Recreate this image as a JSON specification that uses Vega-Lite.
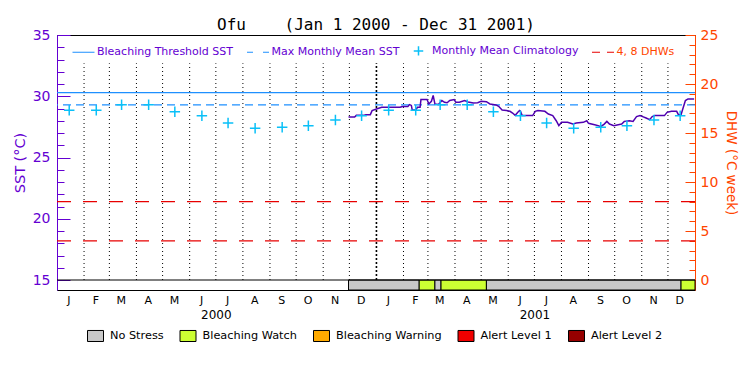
{
  "$schema": "https://vega.github.io/schema/vega-lite/v6.json",
  "width": 638,
  "height": 255,
  "autosize": {"type": "none"},
  "padding": {"left": 57, "top": 35, "right": 55, "bottom": 85},
  "background": "white",
  "title": {"text": "Ofu\u00a0\u00a0\u00a0\u00a0(Jan 1 2000 - Dec 31 2001)", "font": "DejaVu Sans Mono", "fontSize": 16, "fontWeight": "normal", "color": "black", "anchor": "middle", "frame": "group", "offset": -5},
  "config": {
    "view": {"stroke": "black", "strokeWidth": 1},
    "axis": {"grid": false, "labelFont": "DejaVu Sans", "titleFont": "DejaVu Sans", "titleFontWeight": "normal"},
    "legend": {"padding": 0, "labelFont": "DejaVu Sans"}
  },
  "resolve": {"scale": {"y": "independent"}, "axis": {"x": "independent"}},
  "layer": [
    {
      "data": {"values": [
        {"start": "2000-11-30", "end": "2001-02-19", "status": "No Stress"},
        {"start": "2001-02-19", "end": "2001-03-09", "status": "Bleaching Watch"},
        {"start": "2001-03-09", "end": "2001-03-16", "status": "No Stress"},
        {"start": "2001-03-16", "end": "2001-05-07", "status": "Bleaching Watch"},
        {"start": "2001-05-07", "end": "2001-12-16", "status": "No Stress"},
        {"start": "2001-12-16", "end": "2002-01-01", "status": "Bleaching Watch"}
      ]},
      "mark": {"type": "rect", "stroke": "black", "strokeWidth": 1},
      "encoding": {
        "x": {"field": "start", "type": "temporal",
          "scale": {"type": "utc", "domain": [{"year": 2000, "month": 1, "date": 1, "utc": true}, {"year": 2002, "month": 1, "date": 1, "utc": true}]},
          "axis": {"orient": "bottom", "values": [{"year": 2000, "month": 7, "date": 1, "utc": true}, {"year": 2001, "month": 7, "date": 1, "utc": true}], "format": "%Y", "ticks": false, "domain": false, "labelPadding": 19, "labelFontSize": 12, "labelColor": "black", "labelFlush": false, "labelOverlap": false, "title": null, "grid": false}},
        "x2": {"field": "end"},
        "y": {"datum": 15, "type": "quantitative", "scale": {"domain": [14.184, 35], "nice": false, "zero": false}, "axis": null},
        "y2": {"datum": 14.184},
        "fill": {"field": "status", "type": "nominal",
          "scale": {"domain": ["No Stress", "Bleaching Watch", "Bleaching Warning", "Alert Level 1", "Alert Level 2"], "range": ["#C8C8C8", "#CCFF33", "#FFAA00", "#F00000", "#960000"]},
          "legend": {"orient": "none", "legendX": 30, "legendY": 292, "direction": "horizontal", "title": null, "symbolType": "M-1,-0.69L1,-0.69L1,0.69L-1,0.69Z", "symbolSize": 256, "symbolStrokeColor": "black", "symbolStrokeWidth": 1, "labelFontSize": 11.3, "labelOffset": 6, "columnPadding": 13.5, "labelColor": "black"}}
      }
    },
    {
      "data": {"values": [{"sst": 15}]},
      "mark": {"type": "rule", "color": "black", "strokeWidth": 1},
      "encoding": {"y": {"field": "sst", "type": "quantitative", "scale": {"domain": [14.184, 35], "nice": false, "zero": false}, "axis": null}}
    },
    {
      "data": {"values": [
        {"date": "2000-02-01"}, {"date": "2000-03-01"}, {"date": "2000-04-01"}, {"date": "2000-05-01"}, {"date": "2000-06-01"}, {"date": "2000-07-01"},
        {"date": "2000-08-01"}, {"date": "2000-09-01"}, {"date": "2000-10-01"}, {"date": "2000-11-01"}, {"date": "2000-12-01"},
        {"date": "2001-02-01"}, {"date": "2001-03-01"}, {"date": "2001-04-01"}, {"date": "2001-05-01"}, {"date": "2001-06-01"}, {"date": "2001-07-01"},
        {"date": "2001-08-01"}, {"date": "2001-09-01"}, {"date": "2001-10-01"}, {"date": "2001-11-01"}, {"date": "2001-12-01"}
      ]},
      "mark": {"type": "rule", "color": "black", "strokeWidth": 1, "strokeDash": [1, 3]},
      "encoding": {
        "x": {"field": "date", "type": "temporal", "scale": {"type": "utc"}, "axis": null},
        "y": {"datum": 15, "type": "quantitative", "scale": {"domain": [14.184, 35], "nice": false, "zero": false}, "axis": null},
        "y2": {"datum": 32.69}
      }
    },
    {
      "data": {"values": [{"date": "2001-01-01"}]},
      "mark": {"type": "rule", "color": "black", "strokeWidth": 1.6, "strokeDash": [2, 2]},
      "encoding": {
        "x": {"field": "date", "type": "temporal", "scale": {"type": "utc"}, "axis": null},
        "y": {"datum": 15, "type": "quantitative", "scale": {"domain": [14.184, 35], "nice": false, "zero": false}, "axis": null},
        "y2": {"datum": 32.69}
      }
    },
    {
      "data": {"values": [{"series": "Bleaching Threshold SST", "sst": 30.3}]},
      "mark": {"type": "rule", "strokeWidth": 1.2},
      "encoding": {
        "y": {"field": "sst", "type": "quantitative", "scale": {"domain": [14.184, 35], "nice": false, "zero": false}, "axis": null},
        "color": {"field": "series", "type": "nominal",
          "scale": {"domain": ["Bleaching Threshold SST", "Max Monthly Mean SST", "Monthly Mean Climatology", "4, 8 DHWs"], "range": ["#1E90FF", "#1E90FF", "#0AC0F8", "#E80000"]},
          "legend": {"orient": "none", "legendX": 21, "legendY": 10, "direction": "horizontal", "title": null, "symbolType": "stroke", "symbolSize": 484, "symbolStrokeWidth": 1.2, "labelFontSize": 11, "labelOffset": 8, "columnPadding": 10.5, "labelColor": "#6400D2",
            "encode": {
              "symbols": {"update": {
                "shape": {"signal": "datum.value === 'Monthly Mean Climatology' ? 'M-1,0L1,0M0,-1L0,1' : 'stroke'"},
                "size": {"signal": "datum.value === 'Monthly Mean Climatology' ? 90 : 484"},
                "strokeDash": {"signal": "datum.value === 'Max Monthly Mean SST' ? [6, 10] : datum.value === '4, 8 DHWs' ? [8, 7] : [1, 0]"},
                "strokeWidth": {"signal": "datum.value === 'Monthly Mean Climatology' ? 1.5 : 1.2"},
                "fill": {"value": "transparent"}
              }},
              "labels": {"update": {"fill": {"signal": "datum.value === '4, 8 DHWs' ? '#FF4500' : '#6400D2'"}}}
            }}}
      }
    },
    {
      "data": {"values": [{"series": "Max Monthly Mean SST", "sst": 29.3}]},
      "mark": {"type": "rule", "strokeWidth": 1.2, "strokeDash": [8, 5]},
      "encoding": {
        "y": {"field": "sst", "type": "quantitative", "scale": {"domain": [14.184, 35], "nice": false, "zero": false}, "axis": null},
        "color": {"field": "series", "type": "nominal"}
      }
    },
    {
      "data": {"values": [{"series": "4, 8 DHWs", "dhw": 4}, {"series": "4, 8 DHWs", "dhw": 8}]},
      "mark": {"type": "rule", "strokeWidth": 1.2, "strokeDash": [14, 12]},
      "encoding": {
        "y": {"field": "dhw", "type": "quantitative", "scale": {"domain": [-1.0204, 25], "nice": false, "zero": false},
          "axis": {"orient": "right", "values": [0, 1, 2, 3, 4, 5, 6, 7, 8, 9, 10, 11, 12, 13, 14, 15, 16, 17, 18, 19, 20, 21, 22, 23, 24, 25], "format": "d", "title": "DHW (°C week)", "titleColor": "#FF4500", "titleFontSize": 13.5, "titlePadding": 6, "labelColor": "#FF4500", "labelFontSize": 14, "labelPadding": 15, "labelExpr": "datum.value % 5 === 0 ? datum.label : ''", "tickColor": "#FF4500", "tickSize": {"condition": {"test": "datum.value % 5 === 0", "value": -10}, "value": -6}, "tickWidth": 1, "domainColor": "#FF4500", "labelOverlap": false, "grid": false}},
        "color": {"field": "series", "type": "nominal"}
      }
    },
    {
      "data": {"values": [
        {"date": "2000-11-30", "sst": 28.30}, {"date": "2000-12-07", "sst": 28.30}, {"date": "2000-12-09", "sst": 28.44}, {"date": "2000-12-17", "sst": 28.44},
        {"date": "2000-12-20", "sst": 28.50}, {"date": "2000-12-25", "sst": 28.50}, {"date": "2000-12-27", "sst": 28.83}, {"date": "2001-01-01", "sst": 28.96},
        {"date": "2001-01-07", "sst": 29.10}, {"date": "2001-01-28", "sst": 29.10}, {"date": "2001-01-31", "sst": 29.16}, {"date": "2001-02-06", "sst": 29.16},
        {"date": "2001-02-08", "sst": 29.32}, {"date": "2001-02-10", "sst": 29.25}, {"date": "2001-02-11", "sst": 28.88}, {"date": "2001-02-15", "sst": 28.88},
        {"date": "2001-02-17", "sst": 29.10}, {"date": "2001-02-20", "sst": 29.10}, {"date": "2001-02-21", "sst": 29.73}, {"date": "2001-02-28", "sst": 29.73},
        {"date": "2001-03-02", "sst": 29.37}, {"date": "2001-03-05", "sst": 29.59}, {"date": "2001-03-07", "sst": 30.06}, {"date": "2001-03-09", "sst": 29.37},
        {"date": "2001-03-13", "sst": 29.32}, {"date": "2001-03-17", "sst": 29.65}, {"date": "2001-03-20", "sst": 29.51}, {"date": "2001-03-23", "sst": 29.47},
        {"date": "2001-03-26", "sst": 29.65}, {"date": "2001-03-31", "sst": 29.73}, {"date": "2001-04-02", "sst": 29.51}, {"date": "2001-04-06", "sst": 29.51},
        {"date": "2001-04-12", "sst": 29.65}, {"date": "2001-04-16", "sst": 29.53}, {"date": "2001-04-22", "sst": 29.45}, {"date": "2001-04-27", "sst": 29.47},
        {"date": "2001-05-01", "sst": 29.59}, {"date": "2001-05-07", "sst": 29.56}, {"date": "2001-05-11", "sst": 29.37}, {"date": "2001-05-18", "sst": 29.29},
        {"date": "2001-05-21", "sst": 29.18}, {"date": "2001-05-25", "sst": 28.88}, {"date": "2001-05-30", "sst": 28.83}, {"date": "2001-06-03", "sst": 28.77},
        {"date": "2001-06-06", "sst": 28.63}, {"date": "2001-06-09", "sst": 28.44}, {"date": "2001-06-12", "sst": 28.69}, {"date": "2001-06-14", "sst": 28.83},
        {"date": "2001-06-15", "sst": 28.77}, {"date": "2001-06-17", "sst": 28.42}, {"date": "2001-06-29", "sst": 28.42}, {"date": "2001-07-02", "sst": 28.77},
        {"date": "2001-07-05", "sst": 28.83}, {"date": "2001-07-13", "sst": 28.77}, {"date": "2001-07-17", "sst": 28.55}, {"date": "2001-07-22", "sst": 28.42},
        {"date": "2001-07-26", "sst": 28.00}, {"date": "2001-07-29", "sst": 27.60}, {"date": "2001-08-01", "sst": 27.87}, {"date": "2001-08-08", "sst": 27.87},
        {"date": "2001-08-14", "sst": 27.73}, {"date": "2001-08-18", "sst": 27.81}, {"date": "2001-08-26", "sst": 27.87}, {"date": "2001-08-30", "sst": 28.00},
        {"date": "2001-09-01", "sst": 27.79}, {"date": "2001-09-08", "sst": 27.68}, {"date": "2001-09-12", "sst": 27.60}, {"date": "2001-09-15", "sst": 27.52},
        {"date": "2001-09-19", "sst": 27.73}, {"date": "2001-09-22", "sst": 27.95}, {"date": "2001-09-25", "sst": 27.73}, {"date": "2001-09-30", "sst": 27.60},
        {"date": "2001-10-05", "sst": 27.68}, {"date": "2001-10-09", "sst": 27.73}, {"date": "2001-10-12", "sst": 27.95}, {"date": "2001-10-18", "sst": 28.00},
        {"date": "2001-10-22", "sst": 27.95}, {"date": "2001-10-26", "sst": 28.34}, {"date": "2001-10-30", "sst": 28.42}, {"date": "2001-11-02", "sst": 28.34},
        {"date": "2001-11-06", "sst": 28.22}, {"date": "2001-11-10", "sst": 28.09}, {"date": "2001-11-13", "sst": 28.34}, {"date": "2001-11-16", "sst": 28.42},
        {"date": "2001-11-27", "sst": 28.42}, {"date": "2001-11-30", "sst": 28.69}, {"date": "2001-12-05", "sst": 28.77}, {"date": "2001-12-11", "sst": 28.77},
        {"date": "2001-12-13", "sst": 28.50}, {"date": "2001-12-16", "sst": 28.50}, {"date": "2001-12-18", "sst": 28.96}, {"date": "2001-12-21", "sst": 29.65},
        {"date": "2001-12-24", "sst": 29.78}, {"date": "2001-12-31", "sst": 29.78}
      ]},
      "mark": {"type": "line", "color": "#5000B0", "strokeWidth": 1.5},
      "encoding": {
        "x": {"field": "date", "type": "temporal", "scale": {"type": "utc"},
          "axis": {"orient": "bottom", "values": [
            {"year": 2000, "month": 1, "date": 14, "utc": true}, {"year": 2000, "month": 2, "date": 14, "utc": true}, {"year": 2000, "month": 3, "date": 14, "utc": true},
            {"year": 2000, "month": 4, "date": 14, "utc": true}, {"year": 2000, "month": 5, "date": 14, "utc": true}, {"year": 2000, "month": 6, "date": 14, "utc": true},
            {"year": 2000, "month": 7, "date": 14, "utc": true}, {"year": 2000, "month": 8, "date": 14, "utc": true}, {"year": 2000, "month": 9, "date": 14, "utc": true},
            {"year": 2000, "month": 10, "date": 14, "utc": true}, {"year": 2000, "month": 11, "date": 14, "utc": true}, {"year": 2000, "month": 12, "date": 14, "utc": true},
            {"year": 2001, "month": 1, "date": 14, "utc": true}, {"year": 2001, "month": 2, "date": 14, "utc": true}, {"year": 2001, "month": 3, "date": 14, "utc": true},
            {"year": 2001, "month": 4, "date": 14, "utc": true}, {"year": 2001, "month": 5, "date": 14, "utc": true}, {"year": 2001, "month": 6, "date": 14, "utc": true},
            {"year": 2001, "month": 7, "date": 14, "utc": true}, {"year": 2001, "month": 8, "date": 14, "utc": true}, {"year": 2001, "month": 9, "date": 14, "utc": true},
            {"year": 2001, "month": 10, "date": 14, "utc": true}, {"year": 2001, "month": 11, "date": 14, "utc": true}, {"year": 2001, "month": 12, "date": 14, "utc": true}
          ], "format": "%b", "labelExpr": "substring(datum.label, 0, 1)", "ticks": false, "domain": false, "labelPadding": 4, "labelFontSize": 11, "labelColor": "black", "labelFlush": false, "labelOverlap": false, "title": null, "grid": false}},
        "y": {"field": "sst", "type": "quantitative", "scale": {"domain": [14.184, 35], "nice": false, "zero": false},
          "axis": {"orient": "left", "values": [15, 16, 17, 18, 19, 20, 21, 22, 23, 24, 25, 26, 27, 28, 29, 30, 31, 32, 33, 34, 35], "format": "d", "title": "SST (°C)", "titleColor": "#6400D2", "titleFontSize": 14.5, "titlePadding": 5, "labelColor": "#6400D2", "labelFontSize": 14, "labelPadding": 20, "labelExpr": "datum.value % 5 === 0 ? datum.label : ''", "tickColor": "#6400D2", "tickSize": {"condition": {"test": "datum.value % 5 === 0", "value": -13}, "value": -7}, "tickWidth": 1, "domainColor": "#6400D2", "labelOverlap": false, "grid": false}}
      }
    },
    {
      "data": {"values": [
        {"series": "Monthly Mean Climatology", "date": "2000-01-15", "sst": 28.85}, {"series": "Monthly Mean Climatology", "date": "2000-02-15", "sst": 28.85},
        {"series": "Monthly Mean Climatology", "date": "2000-03-15", "sst": 29.30}, {"series": "Monthly Mean Climatology", "date": "2000-04-15", "sst": 29.30},
        {"series": "Monthly Mean Climatology", "date": "2000-05-15", "sst": 28.73}, {"series": "Monthly Mean Climatology", "date": "2000-06-15", "sst": 28.40},
        {"series": "Monthly Mean Climatology", "date": "2000-07-15", "sst": 27.81}, {"series": "Monthly Mean Climatology", "date": "2000-08-15", "sst": 27.38},
        {"series": "Monthly Mean Climatology", "date": "2000-09-15", "sst": 27.46}, {"series": "Monthly Mean Climatology", "date": "2000-10-15", "sst": 27.60},
        {"series": "Monthly Mean Climatology", "date": "2000-11-15", "sst": 28.06}, {"series": "Monthly Mean Climatology", "date": "2000-12-15", "sst": 28.40},
        {"series": "Monthly Mean Climatology", "date": "2001-01-15", "sst": 28.85}, {"series": "Monthly Mean Climatology", "date": "2001-02-15", "sst": 28.85},
        {"series": "Monthly Mean Climatology", "date": "2001-03-15", "sst": 29.30}, {"series": "Monthly Mean Climatology", "date": "2001-04-15", "sst": 29.30},
        {"series": "Monthly Mean Climatology", "date": "2001-05-15", "sst": 28.73}, {"series": "Monthly Mean Climatology", "date": "2001-06-15", "sst": 28.40},
        {"series": "Monthly Mean Climatology", "date": "2001-07-15", "sst": 27.81}, {"series": "Monthly Mean Climatology", "date": "2001-08-15", "sst": 27.38},
        {"series": "Monthly Mean Climatology", "date": "2001-09-15", "sst": 27.46}, {"series": "Monthly Mean Climatology", "date": "2001-10-15", "sst": 27.60},
        {"series": "Monthly Mean Climatology", "date": "2001-11-15", "sst": 28.06}, {"series": "Monthly Mean Climatology", "date": "2001-12-15", "sst": 28.40}
      ]},
      "mark": {"type": "point", "shape": "M-1,0L1,0M0,-1L0,1", "filled": false, "size": 110, "strokeWidth": 1.5, "opacity": 1},
      "encoding": {
        "x": {"field": "date", "type": "temporal", "scale": {"type": "utc"}, "axis": null},
        "y": {"field": "sst", "type": "quantitative", "scale": {"domain": [14.184, 35], "nice": false, "zero": false}, "axis": null},
        "color": {"field": "series", "type": "nominal"}
      }
    }
  ]
}
